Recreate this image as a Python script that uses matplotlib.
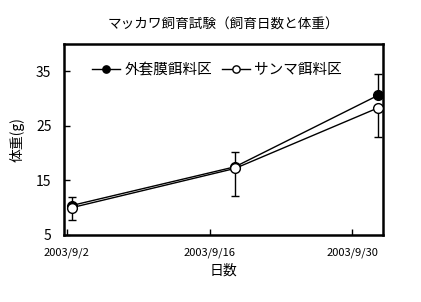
import matplotlib
matplotlib.use("Agg")
import matplotlib.pyplot as plt
import pandas as pd

plt.rcParams['font.family'] = ['Noto Sans CJK JP', 'DejaVu Sans']

# measurement dates and mean body weight (g)
dates = ["2003-09-02", "2003-09-18", "2003-10-02"]
mantle_mean = [10.4, 17.5, 30.6]      # 外套膜餌料区
mantle_err = [1.6, 2.8, 4.0]
saury_mean = [10.0, 17.2, 28.3]       # サンマ餌料区
saury_err = [2.2, 5.0, 5.3]

tick_dates = ["2003-09-02", "2003-09-16", "2003-09-30"]
tick_labels = ["2003/9/2", "2003/9/16", "2003/9/30"]
y_ticks = [5, 15, 25, 35]

title = "マッカワ飼育試験（飼育日数と体重）"
xlabel = "日数"
ylabel = "体重(g)"

# excel date axis puts the points in the middle of the day
x = pd.to_datetime(dates) + pd.Timedelta(hours=12)
xt = pd.to_datetime(tick_dates)

fig = plt.figure(figsize=(4.21, 3.02), dpi=100)
ax = fig.add_axes([0.152, 0.222, 0.758, 0.632])

# error bars: upper for mantle, lower for saury
ax.errorbar(x, mantle_mean, yerr=[[0] * 3, mantle_err], fmt='none',
            ecolor='black', elinewidth=1, capsize=3, capthick=1, zorder=2)
ax.errorbar(x, saury_mean, yerr=[saury_err, [0] * 3], fmt='none',
            ecolor='black', elinewidth=1, capsize=3, capthick=1, zorder=2)

ax.plot(x, mantle_mean, '-o', color='black', lw=1, ms=7,
        mfc='black', mec='black', label="外套膜餌料区", zorder=3)
ax.plot(x, saury_mean, '-o', color='black', lw=1, ms=7,
        mfc='white', mec='black', mew=1, label="サンマ餌料区", zorder=4)

ax.set_xlim(pd.Timestamp("2003-09-01 18:00"), pd.Timestamp("2003-10-03"))
ax.set_ylim(5, 40)
ax.set_yticks(y_ticks)
ax.set_xticks(xt)
ax.set_xticklabels(tick_labels, fontsize=8)
ax.tick_params(axis='y', direction='in', length=4, width=1, pad=9, labelsize=10)
ax.tick_params(axis='x', direction='in', length=4, width=1, pad=9)
for s in ax.spines.values():
    s.set_linewidth(1.8)

ax.set_title(title, fontsize=9.8, pad=12)
ax.set_xlabel(xlabel, fontsize=10, labelpad=4)
ax.set_ylabel(ylabel, fontsize=10, labelpad=8)

ax.legend(loc='upper left', bbox_to_anchor=(0.07, 0.93), ncol=2, frameon=False,
          fontsize=10.5, handlelength=1.9, handletextpad=0.3, columnspacing=0.7,
          markerscale=0.75, borderaxespad=0)

fig.savefig("out.png", dpi=100)
